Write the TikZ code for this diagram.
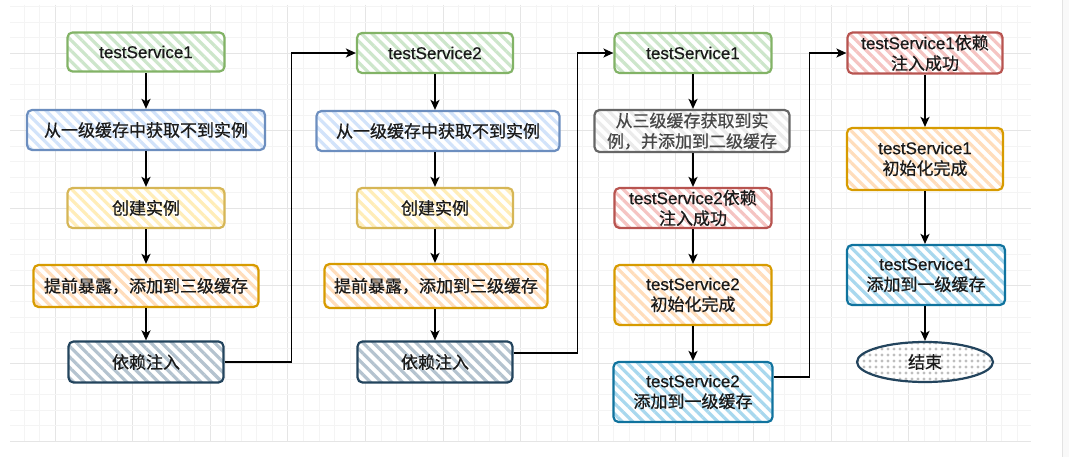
\documentclass[tikz,border=0pt]{standalone}
\usepackage{fontspec}
\setmainfont[FakeBold=0.5]{Liberation Sans}
\newfontfamily\cjk[FakeBold=0.6]{Noto Sans CJK SC}
\usetikzlibrary{patterns.meta,arrows.meta,shapes.geometric}
\newcommand{\zh}[1]{{\cjk #1}}
\definecolor{gS}{HTML}{82B366}\definecolor{gF}{HTML}{CDE6CB}
\definecolor{bS}{HTML}{6C8EBF}\definecolor{bF}{HTML}{D2E3FA}
\definecolor{yS}{HTML}{D6B656}\definecolor{yF}{HTML}{FFEDB8}
\definecolor{oS}{HTML}{D79B00}\definecolor{oF}{HTML}{FFDDBB}
\definecolor{sS}{HTML}{23445D}\definecolor{sF}{HTML}{B4C3CF}
\definecolor{rS}{HTML}{B85450}\definecolor{rF}{HTML}{F5C4C2}
\definecolor{cS}{HTML}{10739E}\definecolor{cF}{HTML}{A8D8EE}
\definecolor{pS}{HTML}{666666}\definecolor{pF}{HTML}{EBEBEB}
\definecolor{txt}{HTML}{1A1A1A}
\begin{document}
\begin{tikzpicture}[x=1pt,y=-1pt,
  box/.style={draw, rounded corners=5pt, line width=2.2pt, align=center, inner sep=0pt,
    text=txt, font=\fontsize{17}{20.5}\selectfont, preaction={fill=white}},
  hatch/.style={pattern={Lines[angle=-45,distance=7.5pt,line width=3.2pt]}, pattern color=#1},
  gbox/.style={box, draw=gS, hatch=gF},
  bbox/.style={box, draw=bS, hatch=bF},
  ybox/.style={box, draw=yS, hatch=yF},
  obox/.style={box, draw=oS, hatch=oF},
  sbox/.style={box, draw=sS, hatch=sF},
  rbox/.style={box, draw=rS, hatch=rF},
  cbox/.style={box, draw=cS, hatch=cF},
  pbox/.style={box, draw=pS, hatch=pF, text=pS!70!black},
  endnode/.style={ellipse, draw=sS, line width=2.2pt, inner sep=0pt, text=txt,
    font=\fontsize{17}{20}\selectfont, preaction={fill=white},
    pattern={Dots[distance=6pt,radius=1.7pt]}, pattern color=gray!50},
  conn/.style={line width=1.6pt, draw=black, -{Stealth[length=10pt,width=9pt,inset=2.5pt]}},
  gridminor/.style={draw=gray!9, line width=0.6pt},
  gridmajor/.style={draw=gray!20, line width=0.7pt}
]
\useasboundingbox (0,0) rectangle (1069,457);
\fill[white] (0,0) rectangle (1069,457);
% grid
\foreach \k in {-2,...,62}{
  \pgfmathsetmacro\xx{55+15.52*\k}
  \pgfmathtruncatemacro\mj{mod(\k,5)==0 ? 1 : 0}
  \ifnum\mj=1 \draw[gridmajor] (\xx,5) -- (\xx,441);
  \else \draw[gridminor] (\xx,5) -- (\xx,441); \fi
}
\foreach \k in {-3,...,25}{
  \pgfmathsetmacro\yy{53+15.52*\k}
  \pgfmathtruncatemacro\mj{mod(\k,5)==0 ? 1 : 0}
  \ifnum\mj=1 \draw[gridmajor] (10,\yy) -- (1031,\yy);
  \else \draw[gridminor] (10,\yy) -- (1031,\yy); \fi
}
\fill[gray!5] (1062,0) rectangle (1069,457);
\draw[gray!22, line width=0.8pt] (1062,0) -- (1062,457);

% column 1
\node[gbox, minimum width=157pt, minimum height=39pt] (a1) at (146,52) {testService1};
\node[bbox, minimum width=238pt, minimum height=40pt] (a2) at (146,130) {\zh{从一级缓存中获取不到实例}};
\node[ybox, minimum width=157pt, minimum height=40pt] (a3) at (146,208) {\zh{创建实例}};
\node[obox, minimum width=225pt, minimum height=42pt] (a4) at (146,286) {\zh{提前暴露，添加到三级缓存}};
\node[sbox, minimum width=155pt, minimum height=41pt] (a5) at (146,362) {\zh{依赖注入}};
% column 2
\node[gbox, minimum width=156pt, minimum height=40pt] (b1) at (435,53) {testService2};
\node[bbox, minimum width=243pt, minimum height=40pt] (b2) at (438,131) {\zh{从一级缓存中获取不到实例}};
\node[ybox, minimum width=156pt, minimum height=40pt] (b3) at (435,208) {\zh{创建实例}};
\node[obox, minimum width=223pt, minimum height=44pt] (b4) at (436,286) {\zh{提前暴露，添加到三级缓存}};
\node[sbox, minimum width=155pt, minimum height=41pt] (b5) at (435,362) {\zh{依赖注入}};
% column 3
\node[gbox, minimum width=157pt, minimum height=40pt] (c1) at (693,53) {testService1};
\node[pbox, minimum width=195pt, minimum height=42pt] (c2) at (692,131) {\zh{从三级缓存获取到实}\\\zh{例，并添加到二级缓存}};
\node[rbox, minimum width=157pt, minimum height=40pt] (c3) at (693,208) {testService2\zh{依赖}\\\zh{注入成功}};
\node[obox, minimum width=157pt, minimum height=60pt] (c4) at (693,295) {testService2\\\zh{初始化完成}};
\node[cbox, minimum width=159pt, minimum height=60pt] (c5) at (693,392) {testService2\\\zh{添加到一级缓存}};
% column 4
\node[rbox, minimum width=155pt, minimum height=41pt] (d1) at (925,53) {testService1\zh{依赖}\\\zh{注入成功}};
\node[obox, minimum width=156pt, minimum height=62pt] (d2) at (925,159) {testService1\\\zh{初始化完成}};
\node[cbox, minimum width=158pt, minimum height=60pt] (d3) at (926,275) {testService1\\\zh{添加到一级缓存}};
\node[endnode, minimum width=136pt, minimum height=40pt] (d4) at (925,362) {\zh{结束}};

% connectors
\draw[conn] (a1) -- (a2);
\draw[conn] (a2) -- (a3);
\draw[conn] (a3) -- (a4);
\draw[conn] (a4) -- (a5);
\draw[conn] (a5.east) -- ++(67,0) |- (b1.west);
\draw[conn] (b1) -- (b2.north -| b1);
\draw[conn] (b2.south -| b3) -- (b3);
\draw[conn] (b3) -- (b4.north -| b3);
\draw[conn] (b4.south -| b5) -- (b5);
\draw[conn] ([yshift=9pt]b5.east) -- ++(64,0) |- (c1.west);
\draw[conn] (c1) -- (c2.north -| c1);
\draw[conn] (c2.south -| c3) -- (c3);
\draw[conn] (c3) -- (c4);
\draw[conn] (c4) -- (c5);
\draw[conn] ([yshift=15pt]c5.east) -- ++(36,0) |- (d1.west);
\draw[conn] (d1) -- (d2);
\draw[conn] (d2) -- (d3.north -| d2);
\draw[conn] (d3.south -| d4) -- (d4);
\end{tikzpicture}
\end{document}
